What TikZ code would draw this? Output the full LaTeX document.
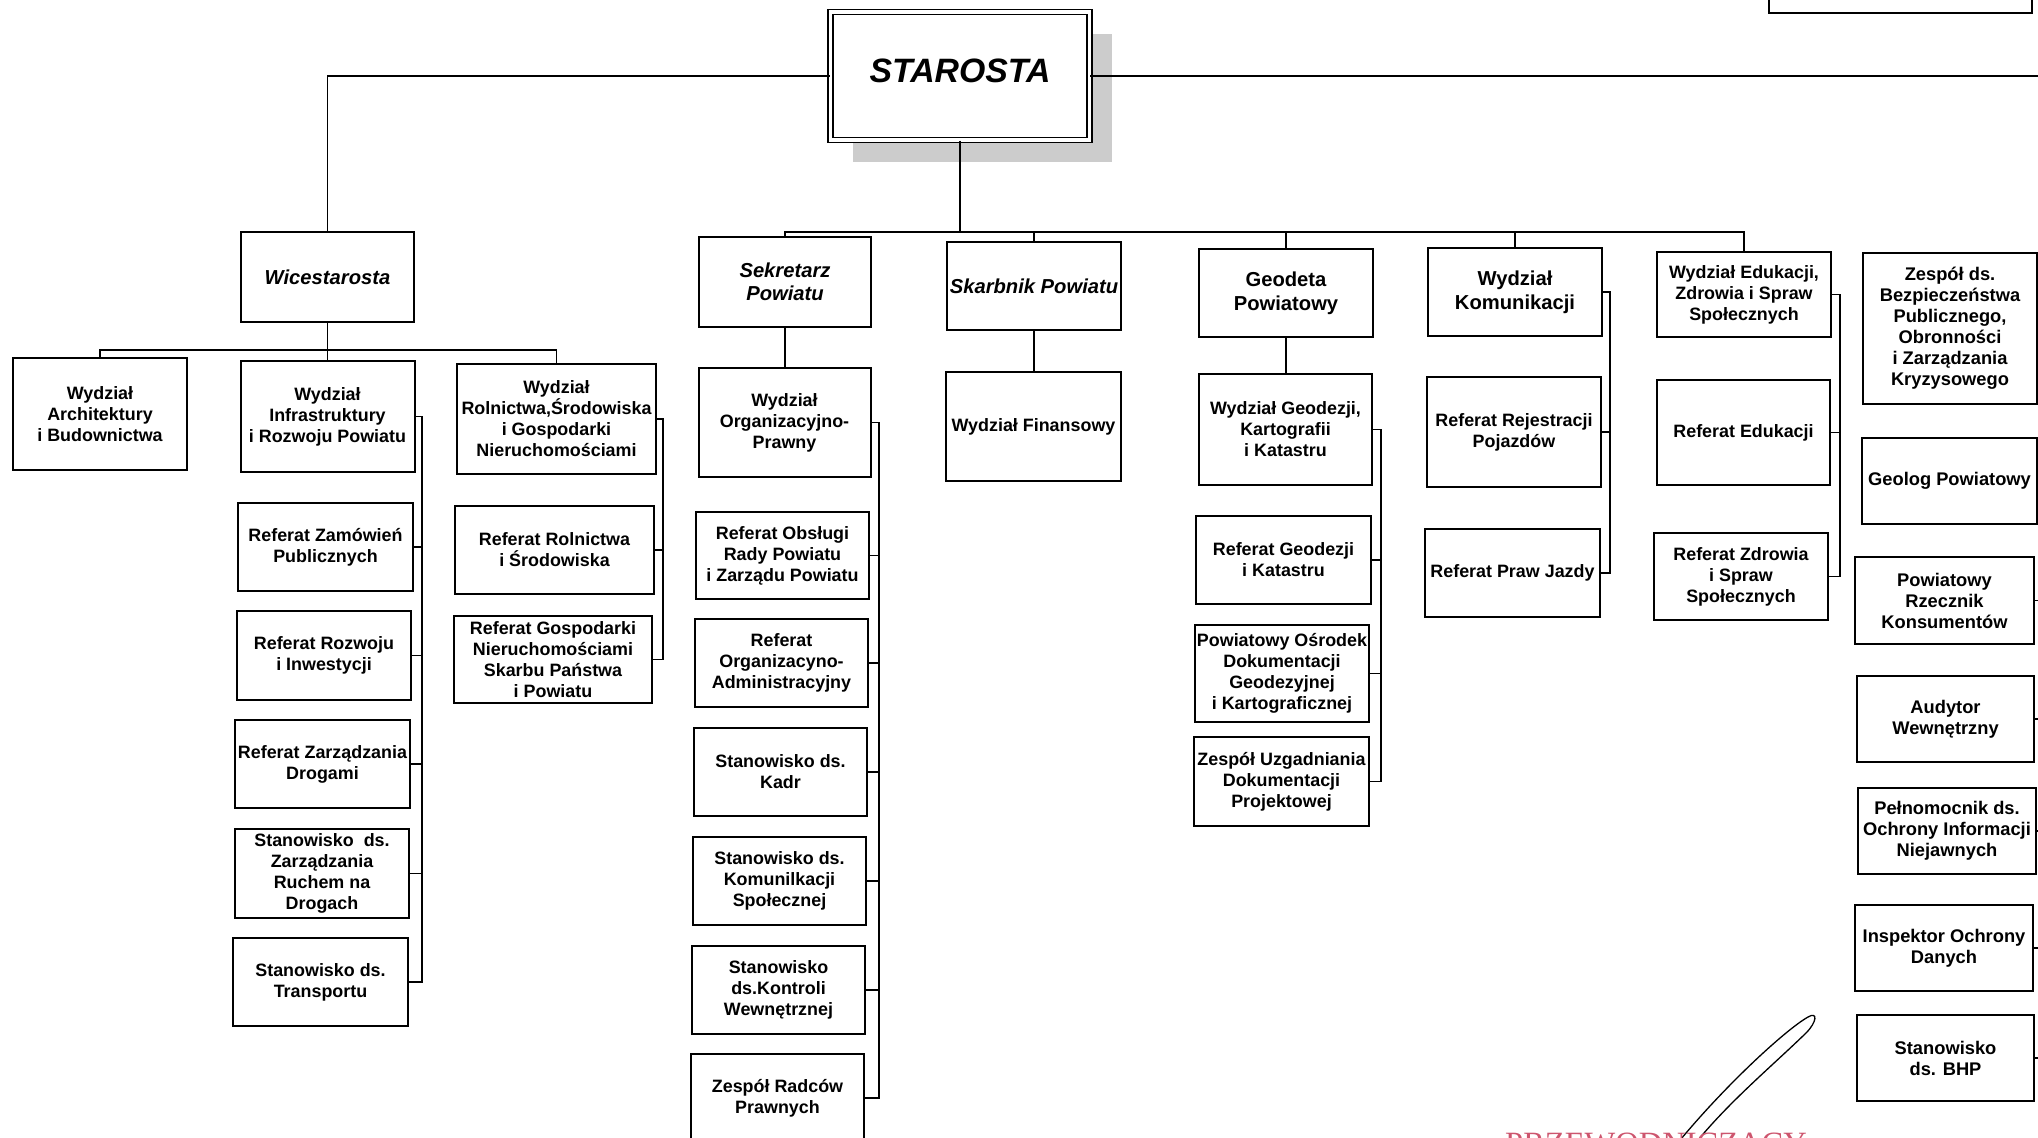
\documentclass[tikz,border=0pt]{standalone}
\usepackage{fontspec}
\setmainfont{Liberation Sans}
\newfontfamily\stampfont{Liberation Serif}
\usetikzlibrary{shadows}
\tikzset{>=latex}
\definecolor{stampred}{RGB}{205,85,110}
\tikzset{
  box/.style={draw, line width=2pt, fill=white, align=center, inner sep=0pt,
    font=\bfseries\fontsize{17.9}{21}\selectfont},
  dims/.style 2 args={minimum width=#1pt, minimum height=#2pt},
  head/.style={box, font=\bfseries\itshape\fontsize{20.2}{23.5}\selectfont},
  bighead/.style={box, font=\bfseries\fontsize{20.2}{24}\selectfont},
  side/.style={box, font=\bfseries\fontsize{18.3}{21}\selectfont},
  link/.style={line width=1.8pt},
  rail/.style={line width=1.4pt}
}

\begin{document}
\begin{tikzpicture}[x=1pt,y=-1pt]
  \useasboundingbox (0,0) rectangle (2038,1138);
  \clip (0,0) rectangle (2038,1138);
  \fill[white] (0,0) rectangle (2038,1138);

  % starosta
  \node[box, dims={259}{128}, line width=1.3pt, double, double distance=3.5pt,
    drop shadow={shadow xshift=22pt, shadow yshift=-22pt, fill=gray!40, opacity=1},
    text depth=10pt, font=\bfseries\itshape\fontsize{33.8}{40}\selectfont] (starosta) at (960,76) {STAROSTA};
  \node[box, dims={263}{80}] (topright) at (1900.5,-27) {};

  % second row
  \node[head, dims={173}{90}] (wice) at (327.5,277) {Wicestarosta};
  \node[head, dims={172}{90}] (sekr) at (785,282) {Sekretarz\\Powiatu};
  \node[head, dims={174}{88}] (skarb) at (1034,286) {Skarbnik Powiatu};
  \node[bighead, dims={174}{88}] (geod) at (1286,293) {Geodeta\\Powiatowy};
  \node[bighead, dims={174}{88}] (komun) at (1515,292) {Wydział\\Komunikacji};
  \node[box, dims={174}{85}] (eduk) at (1744,294.5) {Wydział Edukacji,\\Zdrowia i Spraw\\Społecznych};

  % wicestarosta
  \node[box, dims={174}{112}] (arch) at (100,414) {Wydział\\Architektury\\i Budownictwa};
  \node[box, dims={174}{111}] (infra) at (327.5,416.5) {Wydział\\Infrastruktury\\i Rozwoju Powiatu};
  \node[box, dims={199}{110}] (roln) at (556.5,419) {Wydział\\Rolnictwa,Środowiska\\i Gospodarki\\Nieruchomościami};
  \node[box, dims={175}{88}] (zam) at (325.5,547) {Referat Zamówień\\Publicznych};
  \node[box, dims={174}{89}] (rozw) at (324,655.5) {Referat Rozwoju\\i Inwestycji};
  \node[box, dims={175}{88}] (drog) at (322.5,764) {Referat Zarządzania\\Drogami};
  \node[box, dims={174}{89}] (ruch) at (322,873.5) {Stanowisko\ \ ds.\\Zarządzania\\Ruchem na\\Drogach};
  \node[box, dims={175}{88}] (trans) at (320.5,982) {Stanowisko ds.\\Transportu};
  \node[box, dims={199}{88}] (rolref) at (554.5,550) {Referat Rolnictwa\\i Środowiska};
  \node[box, dims={198}{87}] (gosp) at (553,659.5) {Referat Gospodarki\\Nieruchomościami\\Skarbu Państwa\\i Powiatu};

  % sekretarz
  \node[box, dims={172}{109}] (orgpr) at (784.5,422.5) {Wydział\\Organizacyjno-\\Prawny};
  \node[box, dims={173}{87}] (obsl) at (782.5,555.5) {Referat Obsługi\\Rady Powiatu\\i Zarządu Powiatu};
  \node[box, dims={173}{88}] (admin) at (781.5,663) {Referat\\Organizacyno-\\Administracyjny};
  \node[box, dims={173}{88}] (kadr) at (780.5,772) {Stanowisko ds.\\Kadr};
  \node[box, dims={173}{88}] (komspol) at (779.5,881) {Stanowisko ds.\\Komunilkacji\\Społecznej};
  \node[box, dims={173}{88}] (kontr) at (778.5,990) {Stanowisko\\ds.Kontroli\\Wewnętrznej};
  \node[box, dims={173}{88}] (radc) at (777.5,1098) {Zespół Radców\\Prawnych};

  % skarbnik
  \node[box, dims={175}{109}] (fin) at (1033.5,426.5) {Wydział Finansowy};

  % geodeta
  \node[box, dims={173}{111}] (wgeod) at (1285.5,429.5) {Wydział Geodezji,\\Kartografii\\i Katastru};
  \node[box, dims={175}{88}] (rgeod) at (1283.5,560) {Referat Geodezji\\i Katastru};
  \node[box, dims={174}{97}] (podgik) at (1282,673.5) {Powiatowy Ośrodek\\Dokumentacji\\Geodezyjnej\\i Kartograficznej};
  \node[box, dims={175}{89}] (zuzd) at (1281.5,781.5) {Zespół Uzgadniania\\Dokumentacji\\Projektowej};

  % komunikacja, edukacja
  \node[box, dims={174}{110}] (rejestr) at (1514,432) {Referat Rejestracji\\Pojazdów};
  \node[box, dims={175}{88}] (prawj) at (1512.5,573) {Referat Praw Jazdy};
  \node[box, dims={173}{105}] (redu) at (1743.5,432.5) {Referat Edukacji};
  \node[box, dims={174}{87}] (zdrow) at (1741,576.5) {Referat Zdrowia\\i Spraw\\Społecznych};

  % right column
  \node[side, dims={174}{151}] (bezp) at (1950,328.5) {Zespół ds.\\Bezpieczeństwa\\Publicznego,\\Obronności\\i Zarządzania\\Kryzysowego};
  \node[side, dims={175}{86}] (geol) at (1949.5,481) {Geolog Powiatowy};
  \node[side, dims={179}{87}] (rzecz) at (1944.5,600.5) {Powiatowy\\Rzecznik\\Konsumentów};
  \node[side, dims={177}{86}] (audyt) at (1945.5,719) {Audytor\\Wewnętrzny};
  \node[side, dims={178}{86}] (pelnom) at (1947,831) {Pełnomocnik ds.\\Ochrony Informacji\\Niejawnych};
  \node[side, dims={178}{86}] (inspek) at (1944,948) {Inspektor Ochrony\\Danych};
  \node[side, dims={177}{86}] (bhp) at (1945.5,1058) {Stanowisko\\ds. BHP};

  % connectors
  \coordinate (offright) at (2050,0);
  \coordinate (topbus) at (0,232);
  \coordinate (wbus) at (0,350);
  \draw[link] (starosta.west) -| (wice.north);
  \draw[link] (starosta.east) -- (starosta.east -| offright);
  \draw[link] (starosta.south) -- (starosta.south |- topbus);
  \draw[link] (sekr.north) -- (sekr.north |- topbus) -- (eduk.north |- topbus) -- (eduk.north);
  \foreach \n in {skarb,geod,komun}
    \draw[link] (\n.north) -- (\n.north |- topbus);
  \draw[link] (wice.south) -- (wice.south |- wbus);
  \draw[link] (arch.north) -- (arch.north |- wbus) -- (roln.north |- wbus) -- (roln.north);
  \draw[link] (infra.north) -- (infra.north |- wbus);
  \draw[link] (sekr.south) -- (sekr.south |- orgpr.north);
  \draw[link] (skarb.south) -- (skarb.south |- fin.north);
  \draw[link] (geod.south) -- (geod.south |- wgeod.north);

  \coordinate (r1) at (422,0);
  \draw[rail] (infra.east) -- (infra.east -| r1) -- (trans.east -| r1) -- (trans.east);
  \foreach \n in {zam,rozw,drog,ruch}
    \draw[rail] (\n.east) -- (\n.east -| r1);
  \coordinate (r2) at (663,0);
  \draw[rail] (roln.east) -- (roln.east -| r2) -- (gosp.east -| r2) -- (gosp.east);
  \draw[rail] (rolref.east) -- (rolref.east -| r2);
  \coordinate (r3) at (879,0);
  \draw[rail] (orgpr.east) -- (orgpr.east -| r3) -- (radc.east -| r3) -- (radc.east);
  \foreach \n in {obsl,admin,kadr,komspol,kontr}
    \draw[rail] (\n.east) -- (\n.east -| r3);
  \coordinate (r4) at (1381,0);
  \draw[rail] (wgeod.east) -- (wgeod.east -| r4) -- (zuzd.east -| r4) -- (zuzd.east);
  \foreach \n in {rgeod,podgik}
    \draw[rail] (\n.east) -- (\n.east -| r4);
  \coordinate (r5) at (1610,0);
  \draw[rail] (komun.east) -- (komun.east -| r5) -- (prawj.east -| r5) -- (prawj.east);
  \draw[rail] (rejestr.east) -- (rejestr.east -| r5);
  \coordinate (r6) at (1840,0);
  \draw[rail] (eduk.east) -- (eduk.east -| r6) -- (zdrow.east -| r6) -- (zdrow.east);
  \draw[rail] (redu.east) -- (redu.east -| r6);
  \foreach \n in {rzecz,audyt,pelnom,inspek,bhp}
    \draw[rail] (\n.east) -- (\n.east -| offright);

  % signature and stamp
  \draw[line width=1.3pt] (1672,1150) .. controls (1720,1090) and (1785,1030) .. (1808,1017)
    .. controls (1818,1011) and (1817,1022) .. (1806,1033)
    .. controls (1770,1068) and (1725,1105) .. (1690,1150);
  \node[anchor=north west, inner sep=0pt, text=stampred, font=\stampfont\fontsize{32.5}{33}\selectfont] (stamp) at (1505,1133) {PRZEWODNICZĄCY};
\end{tikzpicture}
\end{document}
